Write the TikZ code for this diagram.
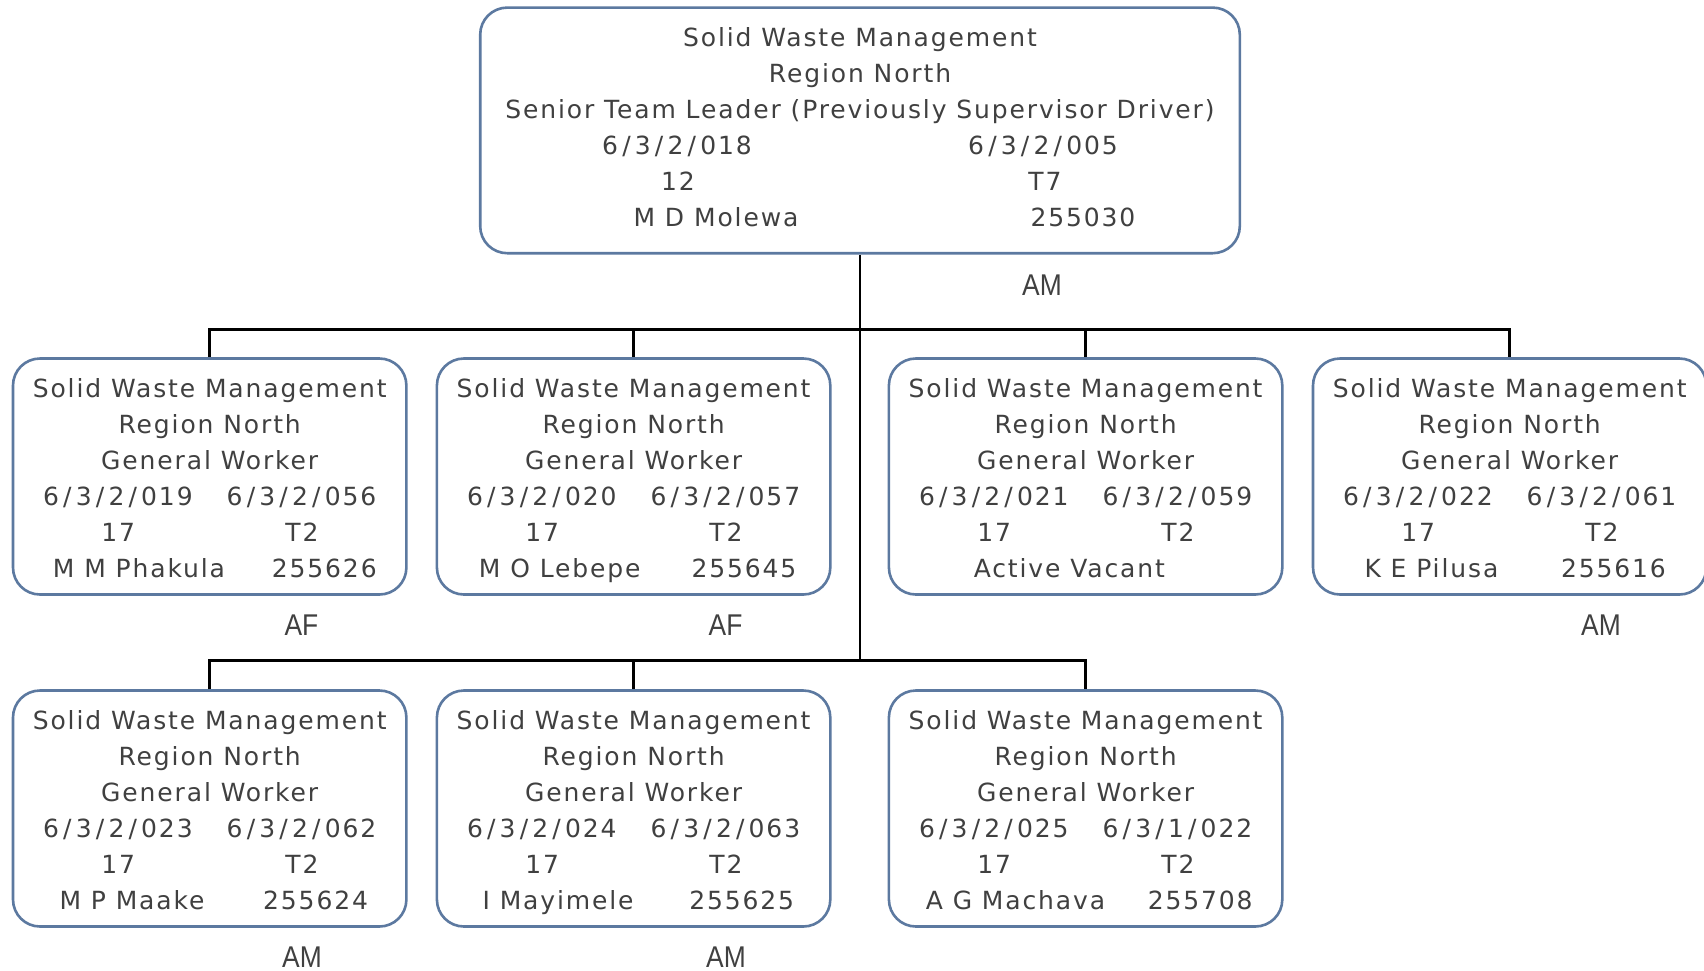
\documentclass[tikz,border=0pt]{standalone}
\usepackage{fontspec}
\newfontfamily\boxfont[LetterSpace=7.5]{DejaVu Sans}
\newfontfamily\lblfont[FakeStretch=0.88]{Liberation Sans}
\definecolor{bordercol}{HTML}{5C79A0}
\definecolor{txtcol}{HTML}{404040}
\newcommand\slh{\hbox to 16.8pt{\hss/\hss}}
\tikzset{
 wbox/.style={draw=bordercol, line width=2.6pt, fill=white, rounded corners=27pt, minimum width=393.4pt, minimum height=236pt, inner sep=0pt},
 topbox/.style={wbox, minimum width=759.6pt, minimum height=245.6pt},
 txt/.style={anchor=base, inner sep=0pt, text=txtcol, font=\boxfont\fontsize{25}{30}\selectfont},
 lbl/.style={anchor=base, inner sep=0pt, text=txtcol, font=\lblfont\fontsize{30}{36}\selectfont},
 conn/.style={draw=black, line width=2.6pt},
}
\newcommand\gwbox[5]{%
 \node[wbox] (#1) at ({#2+196.7},{#3+118}) {};
 \node[txt] (#1-a) at ({#2+196.7},{#3+39}) {Solid Waste Management};
 \node[txt] (#1-b) at ({#2+196.7},{#3+75}) {Region North};
 \node[txt] (#1-c) at ({#2+196.7},{#3+111}) {General Worker};
 \node[txt] (#1-d) at ({#2+104.9},{#3+147}) {#4};
 \node[txt] (#1-e) at ({#2+288.5},{#3+147}) {#5};
 \node[txt] (#1-f) at ({#2+105.2},{#3+183}) {17};
 \node[txt] (#1-g) at ({#2+289},{#3+183}) {T2};
}
\newcommand\gwname[5]{\node[txt] (#1) at ({#2+#4},{#3+219}) {#5};}
\begin{document}
\begin{tikzpicture}[x=1pt,y=-1pt]
\useasboundingbox[fill=white] (0,0) rectangle (1704,970);
% top box
\node[topbox] (top) at (860,130.4) {};
\node[txt] (t-a) at (860,46.5) {Solid Waste Management};
\node[txt] (t-b) at (860,82.5) {Region North};
\node[txt] (t-c) at (860,118.5) {Senior Team Leader (Previously Supervisor Driver)};
\node[txt] (t-d) at (677,154.5) {6\slh 3\slh 2\slh 018};
\node[txt] (t-e) at (1043,154.5) {6\slh 3\slh 2\slh 005};
\node[txt] (t-f) at (678,190.5) {12};
\node[txt] (t-g) at (1045,190.5) {T7};
\node[txt] (t-h) at (716,226.5) {M D Molewa};
\node[txt] (t-i) at (1083,226.5) {255030};
\node[lbl] (t-l) at (1042,295) {AM};
% row 1
\gwbox{b1}{13}{358.5}{6\slh 3\slh 2\slh 019}{6\slh 3\slh 2\slh 056}
\gwname{b1-n}{13}{358.5}{126}{M M Phakula}
\gwname{b1-m}{13}{358.5}{311.3}{255626}
\gwbox{b2}{436.9}{358.5}{6\slh 3\slh 2\slh 020}{6\slh 3\slh 2\slh 057}
\gwname{b2-n}{436.9}{358.5}{122.8}{M O Lebepe}
\gwname{b2-m}{436.9}{358.5}{307}{255645}
\gwbox{b3}{888.9}{358.5}{6\slh 3\slh 2\slh 021}{6\slh 3\slh 2\slh 059}
\gwname{b3-n}{888.9}{358.5}{180.4}{Active Vacant}
\gwbox{b4}{1313}{358.5}{6\slh 3\slh 2\slh 022}{6\slh 3\slh 2\slh 061}
\gwname{b4-n}{1313}{358.5}{118.4}{K E Pilusa}
\gwname{b4-m}{1313}{358.5}{300.5}{255616}
% row 2
\gwbox{b5}{13}{690.5}{6\slh 3\slh 2\slh 023}{6\slh 3\slh 2\slh 062}
\gwname{b5-n}{13}{690.5}{119}{M P Maake}
\gwname{b5-m}{13}{690.5}{302.6}{255624}
\gwbox{b6}{436.9}{690.5}{6\slh 3\slh 2\slh 024}{6\slh 3\slh 2\slh 063}
\gwname{b6-n}{436.9}{690.5}{121.2}{I Mayimele}
\gwname{b6-m}{436.9}{690.5}{304.8}{255625}
\gwbox{b7}{888.9}{690.5}{6\slh 3\slh 2\slh 025}{6\slh 3\slh 1\slh 022}
\gwname{b7-n}{888.9}{690.5}{126.6}{A G Machava}
\gwname{b7-m}{888.9}{690.5}{311.3}{255708}
% labels
\node[lbl] (l1) at (301.5,635) {AF};
\node[lbl] (l2) at (725.5,635) {AF};
\node[lbl] (l4) at (1601,635) {AM};
\node[lbl] (l5) at (302,967) {AM};
\node[lbl] (l6) at (726,967) {AM};
% connectors
\coordinate (j1) at (860,329.3);
\coordinate (j2) at (860,660.7);
\draw[conn] (top.south) -- (j2);
\draw[conn] (b1.north) -- (b1.north|-j1) -- (b4.north|-j1) -- (b4.north);
\draw[conn] (b2.north) -- (b2.north|-j1);
\draw[conn] (b3.north) -- (b3.north|-j1);
\draw[conn] (b5.north) -- (b5.north|-j2) -- (b7.north|-j2) -- (b7.north);
\draw[conn] (b6.north) -- (b6.north|-j2);
\end{tikzpicture}
\end{document}
